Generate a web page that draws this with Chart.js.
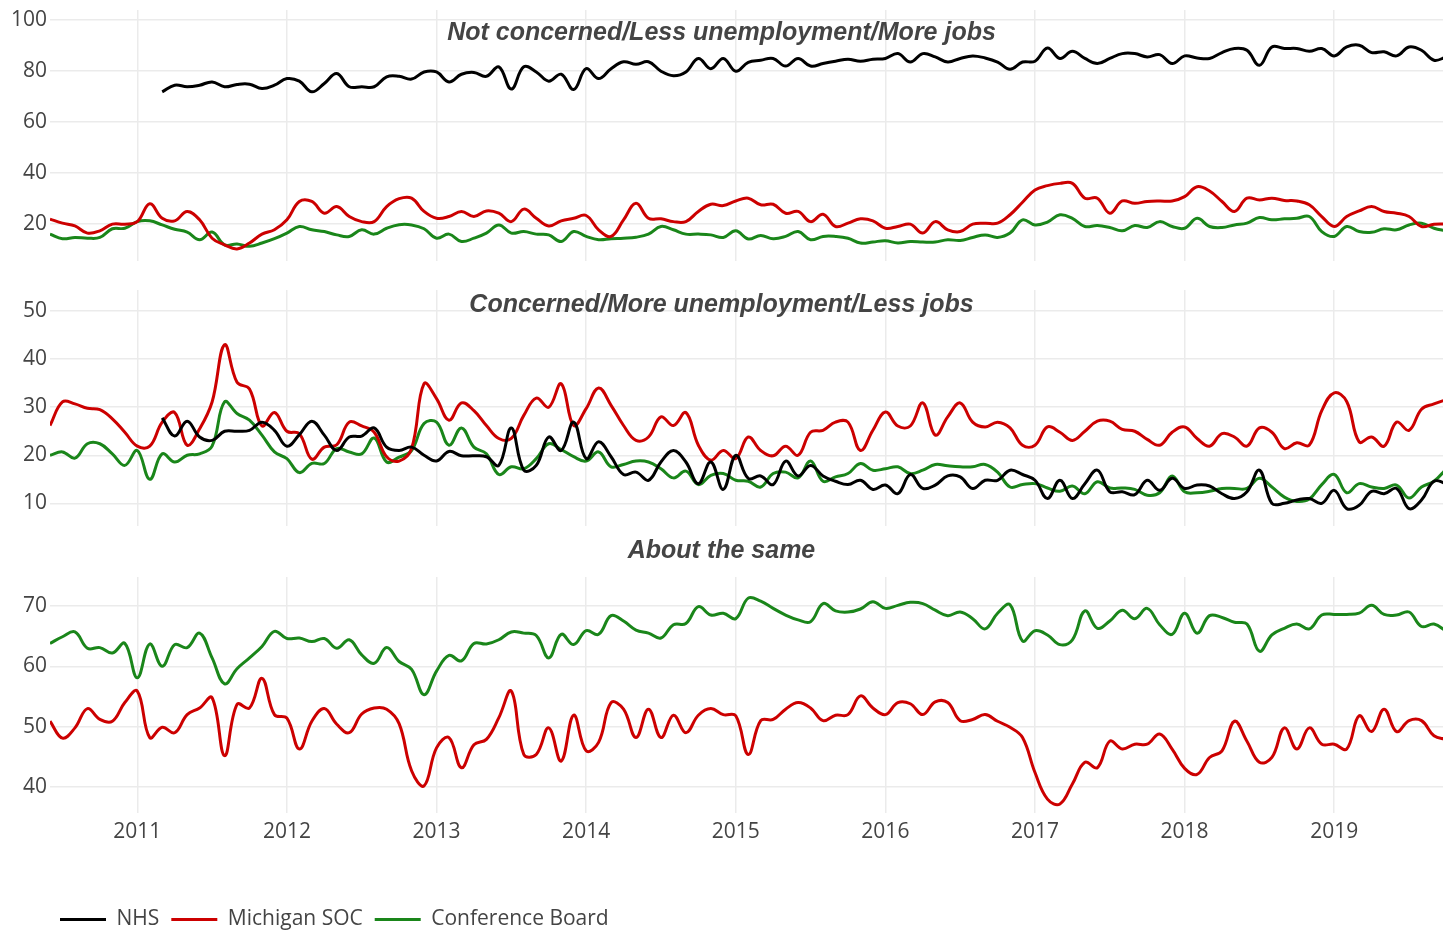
<!DOCTYPE html>
<html>
<head>
<meta charset="utf-8">
<title>Unemployment expectations</title>
<script src="https://cdn.jsdelivr.net/npm/chart.js@4.4.1/dist/chart.umd.min.js"></script>
<style>
  html, body { margin: 0; padding: 0; background: #fff; overflow: hidden; }
  canvas { position: absolute; left: 0; }
</style>
</head>
<body>
<canvas id="c1" width="1443" height="285" style="top:-8px"></canvas>
<canvas id="c2" width="1443" height="270" style="top:272px"></canvas>
<canvas id="c3" width="1443" height="408" style="top:532px"></canvas>
<script>
// monthly survey data, June 2010 .. October 2019
const startYear = 2010;
const startMonth = 6;
const monthCount = 113;
const months = [];
for (let i = 0; i < monthCount; i++) {
    const m = startMonth - 1 + i;
    months.push((startYear + Math.floor(m / 12)) + '-' + String(m % 12 + 1).padStart(2, '0'));
}

const seriesNames = ['NHS', 'Michigan SOC', 'Conference Board'];
const panelTitles = [
    'Not concerned/Less unemployment/More jobs',
    'Concerned/More unemployment/Less jobs',
    'About the same'
];
const yearTicks = [2011, 2012, 2013, 2014, 2015, 2016, 2017, 2018, 2019];
const lessTicks = [20, 40, 60, 80, 100];
const moreTicks = [10, 20, 30, 40, 50];
const sameTicks = [40, 50, 60, 70];

// panel 1 : not concerned
const nhs_less = [null, null, null, null, null, null, null, null, null,
    71.9, 74.5, 73.9, 74.5, 75.8, 73.9, 74.8, 74.9, 73.2, 74.5, 77.1, 76.1, 71.9, 75.2, 79.1, 73.9, 73.9, 73.9, 77.8,
    78, 76.9, 79.7, 79.7, 75.8, 78.8, 79.5, 78, 81.7, 73, 81.7, 79.7, 76.1, 78.8, 72.8, 81, 77.1, 81, 83.7, 82.7,
    83.7, 80, 78.2, 79.7, 85, 81, 85, 80, 83.5, 84.3, 85, 82, 85, 82, 83, 83.9, 84.7, 83.9, 84.7, 85, 86.9, 83.6,
    86.9, 85.6, 83.6, 85, 86, 85.2, 83.6, 80.8, 83.6, 83.9, 89.1, 85, 87.8, 85, 83, 85, 86.9, 86.9, 85.6, 86.5,
    83, 86, 85.2, 85, 87.3, 88.9, 88.2, 82.3, 89.5, 88.9, 88.9, 87.8, 88.9, 86, 89.5, 90.2, 87.3, 87.6, 86, 89.5,
    88.2, 84.3, 85.6];
const mich_less = [22, 20.4, 19.3, 16.5, 17.4, 20, 20, 21, 28, 22.3, 21.3, 25, 21.7, 14.5, 11.9, 10.3, 12.6, 16.1,
    17.8, 21.7, 28.9, 28.9, 24.3, 26.9, 23, 21, 21, 26.9, 30, 30.2, 25, 22.3, 23, 25, 23, 25.2, 24.3, 21, 25.9,
    22.3, 19.3, 21.3, 22.3, 23.4, 17.8, 15.2, 21.7, 28.2, 22.3, 22.1, 21, 21, 25, 27.8, 27.3, 29.1, 30.2, 27.6,
    27.8, 24.3, 25, 21, 23.9, 19.1, 20.4, 22.1, 21.3, 18.4, 19.1, 20, 16.5, 21, 17.8, 17.1, 20, 20.4, 20.4, 23.7,
    28.6, 33.4, 35.1, 36, 36, 30.2, 30.2, 24.3, 29.1, 28.2, 28.9, 29.1, 29.1, 30.8, 34.7, 33, 28.9, 25, 30.2,
    29.5, 30.2, 29.3, 29.1, 27.6, 23, 19.1, 23, 25.2, 26.9, 25, 24.3, 23, 19.1, 20, 20.1];
const conf_less = [16.1, 14.3, 14.8, 14.5, 14.8, 18.2, 18.4, 21, 21.3, 19.7, 18, 16.9, 13.9, 16.9, 11.9, 12.2, 11.3,
    12.6, 14.3, 16.5, 19.1, 17.8, 17.1, 15.8, 15.2, 17.8, 16.1, 18.4, 19.8, 19.7, 18.2, 14.5, 16.1, 13.2, 14.5,
    16.5, 19.7, 16.5, 17.1, 16.1, 15.8, 13.2, 17.1, 15.2, 13.9, 14.3, 14.5, 14.9, 16.1, 19.1, 17.8, 16.1, 16.1,
    15.8, 14.8, 17.4, 14.2, 15.6, 14.3, 15.2, 17.1, 13.9, 15.2, 15.2, 14.5, 12.6, 13, 13.5, 12.6, 13.2, 13, 13,
    13.9, 13.6, 14.8, 15.8, 14.8, 16.5, 21.7, 19.7, 20.8, 23.7, 22.3, 19.1, 19.5, 18.7, 17.4, 19.5, 18.7, 21,
    19.1, 18.4, 22.3, 19.1, 18.7, 19.7, 20.4, 22.6, 21.7, 22.1, 22.3, 23, 17.1, 15.2, 19.1, 17.1, 16.8, 18.2,
    17.8, 19.7, 20.4, 18.4, 17.4];

// panel 2 : concerned
const nhs_more = [null, null, null, null, null, null, null, null, null,
    27.8, 24, 27.1, 23.8, 23.1, 25, 25, 25.2, 26.9, 25.2, 21.9, 24.3, 27.1, 24.2, 21, 23.8, 24, 25.7, 21.7,
    21, 21.7, 20, 18.8, 20.8, 19.9, 19.9, 19.7, 17.9, 25.7, 16.9, 17.9, 23.8, 21, 26.9, 19.3, 22.8, 19.7, 16, 16.5,
    14.8, 18.6, 21, 18.6, 14.1, 18.6, 12.9, 20, 15.2, 15.7, 13.9, 18.8, 15.7, 17.9, 15.7, 14.6, 13.9, 14.8, 12.9,
    13.8, 12, 16, 13.1, 13.8, 15.7, 15.5, 13.1, 14.8, 14.8, 16.9, 16, 14.8, 11, 14.8, 11, 14.1, 16.9, 12.4, 12.4,
    11.8, 14.8, 12.7, 15.2, 13.1, 13.8, 13.6, 12, 11, 12.4, 16.9, 10, 10, 10.7, 11, 10, 12.7, 8.9, 9.6, 12.5, 12,
    13.1, 8.9, 10.7, 14.6, 14.1];
const mich_more = [26.2, 31.1, 30.7, 29.8, 29.5, 27.6, 24.8, 21.9, 21.9, 26.9, 28.9, 22.1, 25.5, 31.1, 43, 35.2,
    33.8, 26.1, 28.9, 25, 24.5, 19.2, 21.7, 22.2, 26.9, 26.1, 24.8, 19.7, 18.8, 21.4, 34.9, 31.8, 27.3, 30.9, 29.3,
    26.2, 23.5, 23.5, 28.3, 31.9, 30, 34.9, 26.2, 29.7, 34, 30.4, 26.2, 23.1, 23.8, 28, 26.2, 28.9, 22.1, 19, 21,
    19.3, 23.8, 21, 19.9, 21.9, 20, 24.8, 25.2, 26.9, 26.9, 21, 25.2, 29, 26.1, 26.1, 30.9, 24.2, 28, 30.9, 26.9,
    25.9, 26.9, 25.7, 22.1, 22.1, 25.9, 24.8, 23.1, 25, 27.1, 27.1, 25.4, 25, 23.3, 22.1, 24.8, 25.9, 23.5, 21.9,
    24.5, 23.8, 21.9, 25.7, 24.8, 21.4, 22.6, 22.1, 29.3, 33, 31.2, 22.8, 23.8, 21.9, 26.9, 25.2, 29.6, 30.7, 31.6];
const conf_more = [20, 20.7, 19.4, 22.4, 22.4, 20.3, 17.9, 21, 15, 20.3, 18.6, 20, 20.3, 21.9, 31.1, 28.7, 27.3,
    24.2, 20.7, 19.3, 16.4, 18.3, 18.3, 21.4, 20.7, 20.3, 23.6, 18.6, 19.6, 21, 26.6, 26.9, 22.1, 25.7, 21.7, 20.3,
    16, 17.6, 17.2, 19.3, 22.4, 21.2, 19.7, 18.8, 20.7, 17.6, 18.1, 18.8, 18.6, 17.2, 15.3, 16.7, 13.9, 15.8, 16.2,
    14.8, 14.6, 13.4, 16.2, 16.5, 15.3, 18.8, 14.6, 15.5, 16.2, 18.3, 16.9, 17.2, 17.6, 16.2, 16.9, 18.1, 17.8,
    17.6, 17.6, 18.1, 16.5, 13.4, 13.9, 14.1, 13.2, 12.5, 13.6, 12, 14.5, 13.2, 13.2, 12.9, 11.7, 12.2, 15.7, 12.4,
    12.2, 12.5, 13.1, 13.1, 13.1, 15.2, 13.4, 11.3, 10.4, 10.9, 13.9, 16, 12.2, 14.1, 13.4, 13.1, 13.8, 11.1, 13.4,
    14.6, 17.2];

// panel 3 : about the same
const mich_same = [50.9, 48.1, 49.8, 53, 51.2, 50.9, 54, 55.9, 48.2, 49.9, 49, 52, 53.1, 54.8, 45.2, 53.7, 53.1, 58,
    52, 51.4, 46.3, 50.9, 53, 50.4, 49, 52.1, 53.1, 52.9, 50.5, 42.7, 40.2, 46.5, 48.2, 43.2, 47, 47.9, 51.5, 55.9,
    45.4, 45.4, 49.8, 44.3, 51.9, 46, 47.4, 54, 52.9, 48.2, 52.9, 48.2, 51.9, 49, 51.9, 53, 52, 51.8, 45.4, 51, 51.2,
    52.9, 54, 53.1, 51, 51.9, 52, 55.1, 53.1, 52, 54, 53.8, 52, 54.1, 54, 51, 51.2, 52, 50.9, 49.9, 48.2, 42.4, 38,
    37.2, 40.5, 44.1, 43.2, 47.6, 46.3, 47.1, 47.1, 48.8, 46.3, 43.1, 42.1, 44.9, 46, 50.9, 47.6, 44.1, 44.9, 49.8,
    46.3, 49.8, 47.1, 47.1, 46.3, 51.8, 49.2, 52.9, 49.2, 51, 51, 48.5, 47.9];
const conf_same = [63.8, 64.9, 65.7, 63, 63.1, 62.2, 63.8, 58.1, 63.7, 60, 63.6, 63.1, 65.5, 61.4, 57.1, 59.6, 61.4,
    63.3, 65.8, 64.6, 64.7, 64.1, 64.6, 63, 64.4, 61.9, 60.5, 63.1, 60.8, 59.5, 55.3, 59.2, 61.8, 60.9, 63.8, 63.7,
    64.4, 65.7, 65.5, 65.1, 61.4, 65.3, 63.6, 65.9, 65.3, 68.4, 67.5, 66, 65.5, 64.7, 66.9, 67.1, 69.9, 68.5, 68.8,
    67.9, 71.3, 70.8, 69.6, 68.5, 67.7, 67.4, 70.4, 69.2, 69, 69.5, 70.7, 69.6, 70.1, 70.6, 70.4, 69.3, 68.4, 69,
    67.9, 66.2, 68.8, 70.2, 64.2, 65.9, 65.2, 63.6, 64.4, 69.2, 66.3, 67.5, 69.3, 67.9, 69.6, 66.9, 65.3, 68.8,
    65.5, 68.4, 68.1, 67.3, 67, 62.5, 65.2, 66.3, 67, 66.2, 68.5, 68.6, 68.6, 68.8, 70.1, 68.6, 68.5, 69, 66.6, 67,
    65.8];

const colors = ['#000000', '#cc0000', '#1a861a'];

Chart.defaults.font.family = '"Open Sans", "DejaVu Sans", sans-serif';
Chart.defaults.font.size = 21;
Chart.defaults.color = '#444';

// x position of each month as a decimal year
const monthX = months.map(m => {
    const p = m.split('-');
    return Number(p[0]) + (Number(p[1]) - 1) / 12;
});
const xMin = 2010 + 5 / 12;
const xMax = 2019.727;

function toPoints(values) {
    return values.map((v, i) => ({x: monthX[i], y: v}));
}

function line(label, values, color) {
    return {
        label: label,
        data: toPoints(values),
        borderColor: color,
        backgroundColor: color,
        borderWidth: 3,
        pointRadius: 0,
        tension: 0.4,
        fill: false
    };
}

// italic heading written over each panel
const panelTitle = {
    id: 'panelTitle',
    afterDraw(chart, args, opts) {
        const ctx = chart.ctx;
        ctx.save();
        ctx.font = 'italic bold 25px "Liberation Sans", Arial, sans-serif';
        ctx.fillStyle = '#444';
        ctx.textAlign = 'center';
        ctx.textBaseline = 'middle';
        ctx.fillText(opts.text, chart.width / 2, chart.chartArea.top + opts.offset);
        ctx.restore();
    }
};

// legend starts under the plot, not at the canvas edge
const legendShift = {
    id: 'legendShift',
    afterLayout(chart) {
        if (chart.legend && chart.options.plugins.legend.display) {
            chart.legend.left += 48;
        }
    }
};

function makePanel(id, datasets, p) {
    return new Chart(document.getElementById(id), {
        type: 'line',
        data: {datasets: datasets},
        plugins: [panelTitle, legendShift],
        options: {
            responsive: false,
            animation: false,
            layout: {padding: {left: 0, right: 0, top: p.padTop, bottom: p.padBottom}},
            plugins: {
                panelTitle: {text: p.title, offset: p.titleOffset},
                tooltip: {enabled: false},
                legend: {
                    display: p.legend,
                    position: 'bottom',
                    align: 'start',
                    labels: {
                        usePointStyle: true,
                        pointStyle: 'line',
                        pointStyleWidth: 46,
                        padding: 12,
                        color: '#444',
                        font: {size: 21}
                    }
                }
            },
            scales: {
                x: {
                    type: 'linear',
                    min: xMin,
                    max: xMax,
                    border: {display: false},
                    grid: {color: '#ebebeb', lineWidth: 1.5, drawTicks: false},
                    ticks: {
                        display: p.showX,
                        padding: 6,
                        maxRotation: 0,
                        autoSkip: false,
                        callback: v => String(v)
                    },
                    afterBuildTicks: s => { s.ticks = yearTicks.map(v => ({value: v})); },
                    afterFit: s => { s.height = p.showX ? 84 : 0; }
                },
                y: {
                    min: p.yMin,
                    max: p.yMax,
                    border: {display: false},
                    grid: {color: '#ebebeb', lineWidth: 1.5, drawTicks: false},
                    ticks: {padding: 3},
                    afterBuildTicks: s => { s.ticks = p.ticks.map(v => ({value: v})); },
                    afterFit: s => { s.width = 50; }
                }
            }
        }
    });
}

makePanel('c1', [
    line(seriesNames[0], nhs_less, colors[0]),
    line(seriesNames[1], mich_less, colors[1]),
    line(seriesNames[2], conf_less, colors[2])
], {yMin: 5.4, yMax: 104, ticks: lessTicks, padTop: 18, padBottom: 15, title: panelTitles[0], titleOffset: 23, showX: false, legend: false});

makePanel('c2', [
    line(seriesNames[0], nhs_more, colors[0]),
    line(seriesNames[1], mich_more, colors[1]),
    line(seriesNames[2], conf_more, colors[2])
], {yMin: 5.2, yMax: 54.4, ticks: moreTicks, padTop: 18, padBottom: 15, title: panelTitles[1], titleOffset: 15, showX: false, legend: false});

makePanel('c3', [
    line(seriesNames[0], [], colors[0]),
    line(seriesNames[1], mich_same, colors[1]),
    line(seriesNames[2], conf_same, colors[2])
], {yMin: 35.7, yMax: 74.8, ticks: sameTicks, padTop: 45, padBottom: 0, title: panelTitles[2], titleOffset: -26, showX: true, legend: true});
</script>
</body>
</html>
